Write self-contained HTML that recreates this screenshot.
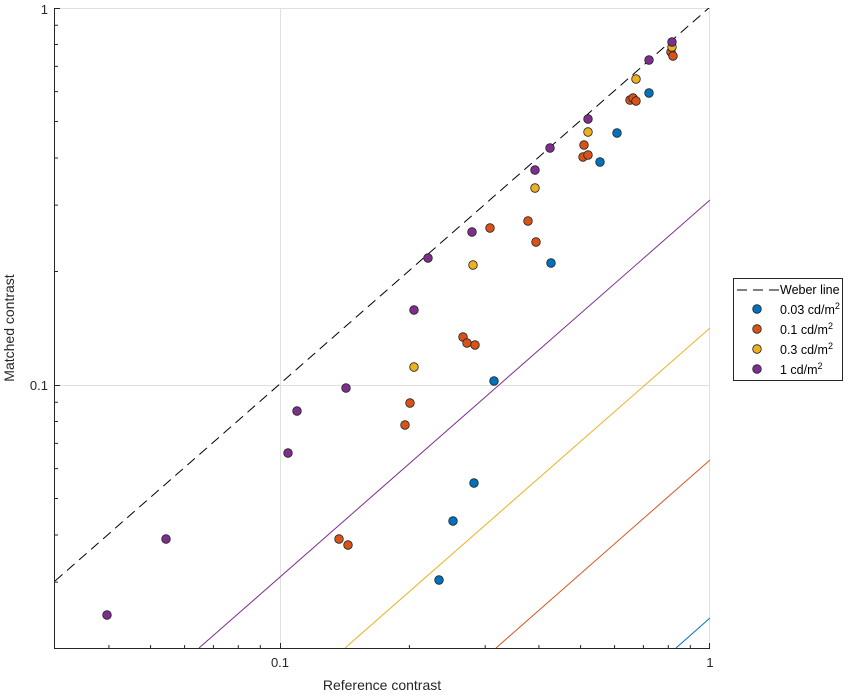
<!DOCTYPE html>
<html><head><style>body{margin:0;background:#fff}</style></head><body>
<svg width="850" height="694" xmlns="http://www.w3.org/2000/svg" font-family="Liberation Sans, sans-serif">
<rect width="850" height="694" fill="#fff"/>
<defs><clipPath id="c"><rect x="55" y="8" width="655" height="640"/></clipPath></defs>
<g stroke="#e0e0e0" stroke-width="1">
<line x1="280.5" y1="8" x2="280.5" y2="648"/>
<line x1="55" y1="385.5" x2="710" y2="385.5"/>
<line x1="55" y1="8.5" x2="710" y2="8.5"/>
<line x1="709.5" y1="8" x2="709.5" y2="648"/>
</g>
<line x1="54.5" y1="8" x2="54.5" y2="649" stroke="#262626"/>
<line x1="54" y1="648.5" x2="710" y2="648.5" stroke="#262626"/>
<g stroke="#262626" stroke-width="1">
<path d="M108.9,648V645M150.6,648V645M184.6,648V645M213.4,648V645M238.3,648V645M260.3,648V645M280.5,648V643M409.4,648V645M485.2,648V645M538.9,648V645M580.6,648V645M614.6,648V645M643.4,648V645M668.3,648V645M690.3,648V645M709.5,648V643"/>
<path d="M55,582.1H58M55,535H58M55,498.5H58M55,468.6H58M55,443.4H58M55,421.5H58M55,402.3H58M55,385.5H60M55,271.5H58M55,205.1H58M55,158H58M55,121.5H58M55,91.6H58M55,66.4H58M55,44.5H58M55,25.3H58M55,8.5H60"/>
</g>
<g clip-path="url(#c)" stroke-width="1" fill="none">
<line x1="55" y1="581" x2="710" y2="7" stroke="#000" stroke-dasharray="10,6"/>
<line x1="199" y1="648" x2="710" y2="200" stroke="#7E2F8E"/>
<line x1="345" y1="648" x2="710" y2="328" stroke="#EDB120"/>
<line x1="496" y1="648" x2="710" y2="460" stroke="#D95319"/>
<line x1="676" y1="648" x2="710" y2="618" stroke="#0072BD"/>
</g>
<g stroke="#222" stroke-width="0.8">
<g fill="#0072BD">
<circle cx="439" cy="580" r="4.3"/><circle cx="453" cy="521" r="4.3"/><circle cx="474" cy="483" r="4.3"/><circle cx="494" cy="381" r="4.3"/><circle cx="551" cy="263" r="4.3"/><circle cx="600" cy="162" r="4.3"/><circle cx="617" cy="133" r="4.3"/><circle cx="649" cy="93" r="4.3"/>
</g>
<g fill="#D95319">
<circle cx="339" cy="539" r="4.3"/><circle cx="348" cy="545" r="4.3"/><circle cx="405" cy="425" r="4.3"/><circle cx="410" cy="403" r="4.3"/><circle cx="463" cy="337" r="4.3"/><circle cx="467" cy="343" r="4.3"/><circle cx="475" cy="345" r="4.3"/><circle cx="490" cy="228" r="4.3"/><circle cx="528" cy="221" r="4.3"/><circle cx="536" cy="242" r="4.3"/><circle cx="583" cy="157" r="4.3"/><circle cx="588" cy="155" r="4.3"/><circle cx="584" cy="145" r="4.3"/><circle cx="630" cy="100" r="4.3"/><circle cx="633" cy="98" r="4.3"/><circle cx="636" cy="101" r="4.3"/><circle cx="671" cy="52" r="4.3"/><circle cx="673" cy="56" r="4.3"/>
</g>
<g fill="#EDB120">
<circle cx="414" cy="367" r="4.3"/><circle cx="473" cy="265" r="4.3"/><circle cx="535" cy="188" r="4.3"/><circle cx="588" cy="132" r="4.3"/><circle cx="636" cy="79" r="4.3"/><circle cx="672" cy="47" r="4.3"/>
</g>
<g fill="#7E2F8E">
<circle cx="107" cy="615" r="4.3"/><circle cx="166" cy="539" r="4.3"/><circle cx="288" cy="453" r="4.3"/><circle cx="297" cy="411" r="4.3"/><circle cx="346" cy="388" r="4.3"/><circle cx="414" cy="310" r="4.3"/><circle cx="428" cy="258" r="4.3"/><circle cx="472" cy="232" r="4.3"/><circle cx="535" cy="170" r="4.3"/><circle cx="550" cy="148" r="4.3"/><circle cx="588" cy="119" r="4.3"/><circle cx="649" cy="60" r="4.3"/><circle cx="672" cy="42" r="4.3"/>
</g>
</g>
<g font-size="13" fill="#262626">
<text x="280" y="667" text-anchor="middle">0.1</text>
<text x="710" y="667" text-anchor="middle">1</text>
<text x="48" y="14" text-anchor="end">1</text>
<text x="48" y="390" text-anchor="end">0.1</text>
<text x="382" y="690" text-anchor="middle" font-size="14">Reference contrast</text>
<text transform="translate(14,328) rotate(-90)" text-anchor="middle" font-size="14">Matched contrast</text>
</g>
<rect x="733.5" y="278.5" width="109" height="102" fill="#fff" stroke="#262626"/>
<line x1="737" y1="290" x2="779" y2="290" stroke="#000" stroke-dasharray="10,6"/>
<g stroke="#222" stroke-width="0.8">
<circle cx="757" cy="309" r="4.3" fill="#0072BD"/>
<circle cx="757" cy="329" r="4.3" fill="#D95319"/>
<circle cx="757" cy="349" r="4.3" fill="#EDB120"/>
<circle cx="757" cy="369" r="4.3" fill="#7E2F8E"/>
</g>
<g font-size="12.5" fill="#000">
<text x="780" y="294">Weber line</text>
<text x="780" y="314">0.03 cd/m<tspan font-size="9" dy="-5">2</tspan></text>
<text x="780" y="334">0.1 cd/m<tspan font-size="9" dy="-5">2</tspan></text>
<text x="780" y="354">0.3 cd/m<tspan font-size="9" dy="-5">2</tspan></text>
<text x="780" y="374">1 cd/m<tspan font-size="9" dy="-5">2</tspan></text>
</g>
</svg>
</body></html>
